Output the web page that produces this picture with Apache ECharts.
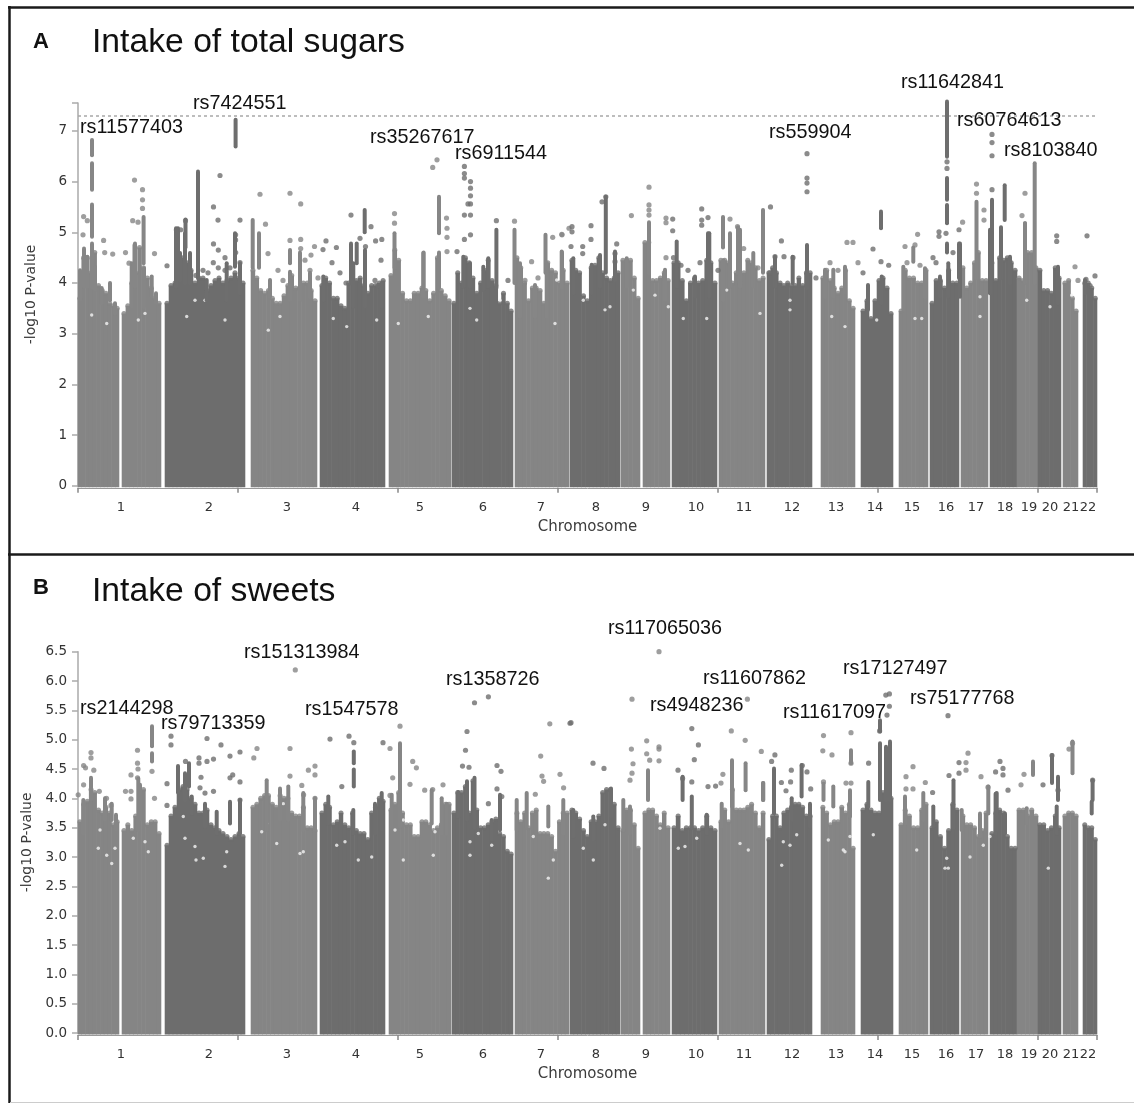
<!DOCTYPE html>
<html><head><meta charset="utf-8">
<style>html,body{margin:0;padding:0;background:#fff}#c{width:1134px;height:1103px;filter:blur(0.45px)}</style>
<script src="https://cdn.jsdelivr.net/npm/echarts@6/dist/echarts.min.js"></script>
</head><body><div id="c"></div>
<script>
// ---------- data ----------
const chromosomes = ['1','2','3','4','5','6','7','8','9','10','11','12','13','14','15','16','17','18','19','20','21','22'];
const chromCentre = [43,131,209,278,342,405,463,518,568,618,666,714,758,797,834,868,898,927,951,972,993,1010];
// genome blocks: [chromosome index, start, end] on the cumulative position scale
const blocks = [[0,0,41],[0,44,83],[1,87,167],[2,173,239],[3,242,307],[4,311,373],[5,374,435],[6,437,491],[7,492,542],[8,543,562],[8,565,592],[9,594,639],[10,641,687],[11,689,734],[12,743,777],[13,783,815],[14,821,850],[15,852,881],[16,883,910],[17,912,939],[18,939,960],[19,960,983],[20,985,1000],[21,1005,1019]];
const xTicks = [0,160,320,480,640,800,960,1019];

const yTicksA = [0,1,2,3,4,5,6,7];
const yTicksB = [0,0.5,1,1.5,2,2.5,3,3.5,4,4.5,5,5.5,6,6.5];
const genomeWideLine = 7.3;

// upper envelope of the dense cloud, per genome block
const massA = [
[3.7,4.5,4.5,4.2,4.6,3.95,3.85,3.8,3.6,3.55,3.5],
[3.4,3.55,4.0,4.2,4.7,4.3,4.1,3.9,3.7,3.6],
[3.6,3.95,4.0,4.4,4.5,4.4,4.25,4.0,4.1,4.1,3.85,3.95,4.05,4.1,4.0,4.05,4.1,4.2,4.1,4.0],
[4.25,4.1,3.85,3.8,3.85,3.7,3.6,3.6,3.75,3.95,4.15,3.9,3.9,4.0,4.0,3.85,3.65],
[3.95,4.1,4.0,3.7,3.7,3.55,3.5,4.0,4.3,4.05,4.1,3.95,3.8,3.95,3.95,4.0,4.05],
[4.15,4.65,4.45,3.8,3.65,3.65,3.8,3.8,3.9,3.85,3.65,3.8,4.5,3.85,3.75,3.65],
[3.6,4.2,4.0,4.5,4.4,4.1,3.8,4.0,4.25,4.45,4.05,3.95,3.6,3.8,3.6,3.45],
[4.5,4.3,4.0,3.65,3.9,3.9,3.85,3.6,4.4,4.25,4.2,4.0,4.25,4.0],
[4.45,4.25,4.2,3.75,3.65,4.3,4.35,4.5,4.2,4.1,4.05,4.1,4.2],
[4.45,4.45,4.45,4.1,3.7],
[4.8,4.8,4.05,4.05,4.1,4.2,4.05],
[4.4,4.4,4.05,3.65,4.0,4.1,4.0,4.05,4.45,4.4,4.0],
[4.45,4.45,4.4,4.0,4.2,4.0,4.2,4.45,4.4,4.3,4.05,4.1],
[4.2,4.3,4.2,4.0,3.95,4.0,3.95,3.95,4.1,3.95,4.2,4.2],
[4.1,4.25,4.05,3.9,3.8,3.9,4.25,3.65,3.5],
[3.45,3.65,3.3,3.65,4.05,4.1,3.9,3.4],
[3.45,4.25,4.1,4.1,4.0,4.0,4.25],
[3.6,4.05,4.05,3.9,4.25,4.0,4.0],
[4.3,3.9,4.0,4.4,4.6,4.05,4.05],
[4.4,4.05,4.5,4.45,4.5,4.4,4.25],
[4.1,4.05,4.6,4.6,4.3],
[4.25,3.85,3.85,3.8,4.3,4.1],
[4.0,4.05,3.7,3.45],
[4.0,4.0,3.9,3.7]
];
const massB = [
[3.6,3.9,3.95,4.15,4.1,3.8,3.75,3.85,3.75,3.55,3.6],
[3.45,3.55,3.45,3.7,4.15,4.15,3.55,3.6,3.6,3.4],
[3.2,3.7,3.85,4.15,4.2,4.15,4.0,3.9,3.75,3.75,3.8,3.55,3.5,3.45,3.4,3.35,3.3,3.35,3.4,3.35],
[3.85,3.9,4.0,4.05,4.05,3.9,3.85,4.05,4.0,4.0,3.75,3.7,3.7,3.85,3.5,3.5,3.45],
[3.75,3.9,3.85,3.55,3.6,3.75,3.55,3.5,3.75,3.45,3.4,3.4,3.3,3.75,3.85,4.0,3.95],
[3.8,3.9,4.1,3.75,3.55,3.55,3.35,3.35,3.6,3.6,3.55,3.45,3.5,3.55,3.9,3.9],
[3.75,4.1,4.1,4.2,3.75,4.3,3.8,3.5,3.5,3.55,3.6,3.65,3.4,3.35,3.1,3.05],
[3.75,3.6,3.75,3.5,3.75,3.8,3.4,3.4,3.4,3.35,3.1,3.6,3.75,3.75],
[3.8,3.75,3.65,3.45,3.35,3.6,3.6,3.7,4.1,4.15,4.15,3.9,3.5],
[3.45,3.8,3.8,3.55,3.15],
[3.75,3.8,3.8,3.7,3.55,3.75,3.5],
[3.5,3.7,3.45,3.5,3.5,3.5,3.45,3.5,3.7,3.5,3.45],
[3.6,3.8,3.6,4.15,3.8,3.8,3.8,3.85,3.9,3.75,3.5,3.75],
[3.3,3.7,3.7,3.5,3.75,3.8,3.85,3.9,3.9,3.85,3.7,3.7],
[3.85,3.75,3.55,3.6,3.6,3.85,3.75,3.9,3.15],
[3.8,3.9,3.8,3.75,3.75,4.1,4.15,4.0],
[3.55,3.8,3.7,3.5,3.5,3.8,3.9],
[3.5,3.6,3.35,3.15,3.45,3.9,3.8],
[3.7,3.55,3.55,3.5,3.35,3.45,3.75],
[3.4,3.75,3.8,3.75,3.35,3.15,3.15],
[3.8,3.8,3.7,3.8,3.7],
[3.55,3.55,3.45,3.5,3.7,3.5],
[3.7,3.75,3.75,3.7],
[3.55,3.5,3.5,3.3]
];

// vertical runs of closely packed SNPs: [position, low, high]
const runsA = [[14,6.52,6.82],[14,5.84,6.36],[14,4.91,5.55],[14,3.9,4.78],[65.6,4.39,5.3],[56.5,4.0,4.75],[120,4.1,6.2],[157.6,6.69,7.22],[174.7,4.3,5.24],[181,4.3,4.98],[316.5,4.3,4.98],[286.7,5.0,5.44],[361,4.98,5.7],[361,3.9,4.6],[418.4,3.9,5.05],[436.5,4.0,5.05],[273,4.0,4.78],[100,4.45,5.08],[107.5,4.7,5.25],[345.6,3.9,4.6],[467.5,4.2,4.95],[484,3.9,4.6],[527.8,4.2,5.7],[571,4.2,5.2],[630,4.1,4.98],[645,4.7,5.3],[652,4.2,4.98],[660,4.2,5.1],[685,4.2,5.44],[729,3.9,4.75],[803,5.08,5.41],[869,6.49,7.58],[869,5.64,6.07],[869,5.18,5.54],[869,4.6,4.78],[898.5,4.1,5.6],[914,4.98,5.64],[914,4.3,4.98],[926.7,5.24,5.93],[923,4.1,5.1],[956.7,4.0,6.36],[947,4.6,5.18],[881,4.1,4.78],
[6,3.93,4.68],[2,3.66,4.25],[9.3,3.93,4.52],[17,3.86,4.32],[23.7,3.6,3.9],[32,3.66,4.0],[37,3.4,3.6],[53.7,3.53,4.39],[57,3.93,4.78],[66,3.53,4.29],[73.7,3.73,4.13],[78,3.6,3.8],[98,3.93,5.08],[102,4.06,4.59],[107,4.0,4.98],[112,4.0,4.59],[128.7,3.66,4.06],[148.7,3.66,4.39],[157,4.32,4.98],[162,3.8,4.39],[192,3.73,4.06],[212,3.66,4.22],[212,4.39,4.65],[222,3.66,4.6],[232,3.73,4.2],[245.3,3.66,4.13],[275.3,3.53,4.39],[278.7,4.39,4.78],[287,3.53,4.65],[303.7,3.53,4.0],[345.3,3.73,4.59],[385.3,3.93,4.52],[392,3.93,4.39],[410.3,3.93,4.49],[405.3,3.86,4.32],[442,3.34,4.39],[457,3.34,3.96],[468.7,3.34,4.39],[483.7,3.93,4.62],[495.3,3.8,4.49],[513.7,3.8,4.36],[522,3.93,4.55],[537,4.06,4.62],[548.7,3.93,4.49],[587,3.66,4.26],[598.7,3.93,4.82],[617,3.73,4.13],[631.3,3.73,4.98],[645.3,3.66,4.45],[652,3.93,4.95],[662,3.93,5.05],[675.3,3.93,4.59],[697,3.93,4.52],[714.7,4.0,4.52],[747,3.73,4.26],[755.3,3.73,4.26],[767,3.8,4.32],[790,3.47,3.96],[803.7,3.6,4.13],[825.3,3.47,4.32],[835.3,4.42,4.7],[847,3.73,4.29],[862,3.73,4.13],[870.3,3.73,4.39],[882,3.73,4.78],[912,3.8,5.05],[932,4.0,4.52],[947,4.0,5.18],[980,3.6,4.32],[1007,3.8,4.06]];
const runsB = [[74,4.89,5.23],[74,4.63,4.77],[322,3.52,4.94],[275.8,4.6,4.8],[275.8,4.2,4.49],[396.5,3.5,4.35],[389,3.64,4.29],[13,3.98,4.35],[62,3.64,4.23],[100,4.1,4.55],[111,4.2,4.6],[533,3.7,4.17],[570,3.97,4.48],[654,3.86,4.65],[667.6,4.14,4.6],[696,3.74,4.51],[685,3.97,4.26],[723.6,4.03,4.57],[773,4.6,4.82],[802,5.14,5.33],[802,3.97,4.94],[808,3.97,4.88],[812,3.97,4.97],[875.5,3.5,4.31],[917.6,3.4,4.08],[994.5,4.43,4.97],[955,4.4,4.63],[974,4.26,4.74],[1014.6,3.97,4.31],[613.8,3.5,4.03],[604.6,3.97,4.37],[745.5,3.97,4.25],[980,3.97,4.37],
[5.3,3.4,3.97],[27,3.63,4.0],[33.7,3.63,3.91],[38,3.46,3.72],[60.3,3.46,4.34],[107,3.97,4.43],[113.7,3.74,4.03],[127,3.52,3.91],[138.7,3.4,3.77],[152,3.57,3.94],[162,3.4,3.97],[188.7,3.46,4.31],[202,3.63,4.17],[210.3,3.63,4.2],[225.3,3.46,4.09],[237,3.46,4.0],[250.3,3.57,4.03],[275.3,3.4,3.8],[297,3.4,3.91],[303.7,3.46,4.09],[313.7,3.52,4.06],[353.7,3.57,4.14],[363.7,3.4,4.0],[368.7,3.4,3.91],[380.3,3.69,4.11],[413.7,3.3,3.63],[422,3.46,4.06],[448.7,3.52,4.09],[438.7,3.46,3.97],[470.3,3.52,3.86],[485.3,3.4,3.97],[495.3,3.35,3.8],[515.3,3.29,3.69],[545.3,3.46,3.97],[552,3.4,3.86],[628.7,3.4,3.72],[643.7,3.52,3.91],[685.3,3.97,4.26],[713.7,3.63,4.0],[732,3.52,3.91],[755.3,3.86,4.2],[772,3.69,4.14],[790.3,3.86,4.28],[827,3.57,4.03],[845.3,3.63,4.09],[855.3,3.52,3.86],[883.7,3.46,3.8],[902,3.35,3.74],[910.3,3.74,4.2],[918.7,3.46,4.09],[927,3.4,3.74],[948.7,3.57,3.83],[978.7,3.4,3.86],[1013.7,3.74,3.94]];

// individual SNPs above the cloud: [position, -log10 p]
const dotsA = [[5.6,5.31],[9.3,5.23],[5,4.95],[25.6,4.84],[26.7,4.6],[34.7,4.57],[47.5,4.6],[56.5,6.03],[64.5,5.84],[64.5,5.64],[64.5,5.47],[54.7,5.23],[60,5.2],[51,4.39],[76.5,4.58],[89,4.34],[107.5,5.23],[98.4,5.05],[102.7,5.05],[142,6.12],[135.5,5.5],[140,5.24],[162,5.24],[157.6,4.95],[157.6,4.85],[135.5,4.77],[182,5.75],[187.5,5.16],[190,4.58],[212,5.77],[222.7,5.56],[212,4.84],[222.7,4.86],[222.7,4.68],[248,4.83],[236.5,4.72],[245,4.66],[258.4,4.7],[233,4.55],[254,4.4],[273,5.34],[282,4.88],[297.6,4.83],[303.8,4.86],[293,5.11],[287.5,4.72],[303,4.45],[316.5,5.37],[316.5,5.18],[354.7,6.28],[359,6.43],[368.5,5.28],[369,5.08],[369,4.9],[369,4.62],[379,4.62],[386.4,6.3],[386.4,6.16],[386.4,6.07],[392.5,6.0],[392.5,5.87],[392.5,5.72],[390,5.56],[392.5,5.56],[386.4,5.34],[392.5,5.34],[392.5,4.95],[386.4,4.86],[418.4,5.23],[436.5,5.22],[453.6,4.42],[474.7,4.9],[483.8,4.96],[491,5.08],
[494,5.11],[494,5.01],[484,4.95],[513,5.13],[513,4.86],[504.7,4.72],[504.7,4.58],[493,4.72],[527.8,5.7],[524,5.6],[538.7,4.77],[537,4.58],[537,4.42],[553.4,5.33],[571,5.89],[571,5.54],[571,5.44],[571,5.34],[588,5.28],[594.7,5.26],[588,5.19],[594.7,5.03],[588,4.5],[595.5,4.5],[623.7,5.46],[623.7,5.24],[623.7,5.14],[630,5.29],[652,5.26],[659.5,5.11],[665.7,4.68],[692.5,5.5],[703.4,4.83],[697,4.52],[706,4.52],[715,4.5],[729,6.55],[729,6.07],[729,5.97],[729,5.8],[752,4.4],[769,4.8],[775,4.8],[795,4.67],[803,4.42],[810.7,4.35],[839.6,4.96],[827,4.72],[837,4.75],[861,5.01],[861,4.92],[868,4.98],[881,5.05],[884.6,5.2],[869,6.39],[869,6.26],[914,6.93],[914,6.77],[914,6.51],[898.5,5.95],[898.5,5.77],[906,5.44],[906,5.24],[914,5.84],[947,5.77],[944,5.33],[978.7,4.93],[978.7,4.82],[1009,4.93],[997,4.32],[1017,4.14],[1008,4.07],
[140.3,4.65],[135.3,4.4],[140.3,4.3],[147,4.5],[147,4.25],[152,4.3],[157.7,4.6],[162,4.4],[130,4.2],[125,4.25],[118,4.15],[200,4.25],[205,4.05],[227,4.45],[232,4.25],[240,4.1],[262,4.2],[268,4.0],[297,4.05],[300,3.95],[430,4.05],[447,4.05],[460,4.1],[603,4.35],[610,4.25],[622,4.4],[640,4.25],[680,4.3],[692,4.2],[738,4.1],[760,4.25],[780,4.4],[785,4.2],[829,4.4],[842,4.35],[855,4.5],[858,4.4],[875,4.6],[1000,4.05],[1012,3.95]];
const dotsB = [[5.6,4.56],[7.5,4.52],[15.8,4.48],[0.2,4.06],[5.6,4.23],[21.3,4.12],[28.5,4.0],[33,3.88],[13,4.78],[13,4.69],[59.5,4.82],[59.5,4.6],[60,4.5],[53,4.4],[59.5,4.35],[47.5,4.12],[53,4.12],[53,3.99],[74,4.46],[76.5,4.0],[89,4.25],[89,3.88],[93,5.06],[93,4.91],[107.5,4.63],[121,4.69],[121,4.6],[129,5.02],[129,4.63],[135.5,4.67],[143,4.91],[152,4.72],[162,4.79],[175.8,4.69],[179,4.85],[152,4.35],[154.7,4.4],[162,4.28],[123,4.36],[122,4.18],[135.5,4.12],[127,4.09],[162,3.97],[212,4.85],[212,4.38],[217.3,6.19],[223.8,4.22],[230.4,4.48],[237,4.55],[237,4.4],[225.6,4.06],[237,4.0],[252,5.01],[271,5.06],[275.8,4.95],[263.8,4.2],[305,4.95],[312,4.85],[322,5.23],[334.7,4.63],[338.4,4.52],[332,4.24],[314.7,4.35],[312,4.05],[346.7,4.14],[354.7,4.15],[365,4.23],[389,5.14],[387.5,4.82],[384.5,4.55],[391,4.53],[396.5,5.63],[410.4,5.73],[419,4.56],[423,4.46],[419,4.16],[410.4,3.91],[423.8,4.03],[471.8,5.27],[492,5.28],[462.7,4.72],[464,4.38],[465.6,4.29],[482,4.41],[485.6,4.18],[457.3,4.07],
[493,5.29],[515,4.6],[526,4.51],[554,5.69],[568.7,4.98],[553.4,4.84],[568.7,4.76],[581,4.88],[581,4.84],[581,4.64],[555,4.59],[554,4.43],[552,4.31],[581,6.5],[571.7,4.65],[613.8,5.19],[620.4,4.91],[616.3,4.66],[600,4.48],[613.8,4.28],[604.6,4.34],[669.4,5.69],[653.3,5.15],[667.2,4.99],[683.3,4.8],[696.9,4.74],[693.6,4.63],[644.9,4.41],[643,4.26],[630,4.2],[637.6,4.21],[713.3,4.48],[724.3,4.56],[729,4.45],[732.7,4.16],[712.6,4.28],[708,4.13],[703.4,4.27],[745.5,5.07],[773,5.12],[744.8,4.81],[754,4.74],[773,4.6],[790.6,4.6],[745.5,4.28],[773,4.26],[768,4.26],[807.8,5.76],[811.4,5.78],[811.4,5.57],[809,5.42],[801.6,5.15],[870,5.41],[835,4.54],[828,4.37],[847.3,4.27],[828,4.16],[835,4.16],[854.6,4.1],[871,4.39],[881,4.61],[888,4.61],[890,4.77],[888,4.48],[881,4.43],[903,4.37],[910,4.19],[922,4.63],[917.6,4.45],[925,4.51],[925,4.4],[930,4.14],[946,4.41],[943,4.23],[965,4.23],[974,4.73],[980,4.14],[991,4.84],[1014.6,4.31],[994.5,4.94]];

// white specks inside the cloud: [position, -log10 p]
const specksA = [[13.7,3.37],[28.7,3.2],[60.3,3.27],[67,3.4],[117,3.66],[108.7,3.34],[147,3.27],[127,3.66],[202,3.34],[190.3,3.07],[255.3,3.3],[268.7,3.14],[320.3,3.2],[298.7,3.27],[350.3,3.34],[392,3.5],[398.7,3.27],[422,3.66],[477,3.2],[478.7,4.06],[505.3,3.66],[527,3.47],[532,3.53],[555.3,3.86],[577,3.76],[590.3,3.53],[605.3,3.3],[628.7,3.3],[682,3.4],[648.7,3.86],[712,3.66],[712,3.47],[753.7,3.34],[767,3.14],[798.7,3.27],[837,3.3],[843.7,3.3],[902,3.73],[902,3.34],[948.7,3.66],[972,3.53],[993.7,3.76]];
const specksB = [[22,3.46],[20.3,3.15],[33.7,2.89],[28.7,3.03],[37,3.15],[67,3.26],[70.3,3.09],[55.3,3.32],[117,3.18],[118,2.95],[125.3,2.98],[148.7,3.09],[147,2.84],[107,3.32],[105.3,3.69],[183.7,3.43],[198.7,3.23],[225.3,3.09],[222,3.06],[188.7,3.57],[205.3,3.91],[258.7,3.2],[267,3.26],[293.7,3.0],[280.3,2.95],[325.3,2.95],[317,3.46],[325.3,3.63],[392,3.26],[400.3,3.4],[413.7,3.2],[455.3,3.35],[475.3,2.95],[470.3,2.64],[515.3,2.95],[505.3,3.15],[527,3.55],[600.3,3.15],[618.7,3.32],[607,3.18],[582,3.49],[662,3.23],[670.3,3.12],[355.3,3.03],[392,3.03],[357,3.43],[705.3,3.26],[712,3.2],[703.7,2.86],[718.7,3.38],[765.3,3.12],[772,3.35],[750.3,3.29],[795.3,3.38],[868.7,2.98],[867,2.81],[870.3,2.81],[838.7,3.12],[892,3.0],[905.3,3.2],[902,3.38],[912,3.35],[970.3,2.81],[767,3.09]];

const snpNamesA = ['rs11577403','rs7424551','rs35267617','rs6911544','rs559904','rs11642841','rs60764613','rs8103840'];
const snpNamesB = ['rs2144298','rs79713359','rs151313984','rs1547578','rs1358726','rs117065036','rs4948236','rs11607862','rs11617097','rs17127497','rs75177768'];

// ---------- layout ----------
const snpPosA = [[80,128],[193,104],[370,138],[455,154],[769,133],[901,83],[957,121],[1004,151]];
const snpPosB = [[80,709],[161,724],[244,653],[305,710],[446,680],[608,629],[650,706],[703,679],[783,713],[843,669],[910,699]];
const LIGHT='#858585', DARK='#6d6d6d', DOT_L='#868686', DOT_D='#6e6e6e';
const FONT='"DejaVu Sans"';

function chromOf(x){
  let best=0, d=1e9;
  blocks.forEach(b=>{ const dd = x<b[1]? b[1]-x : x>b[2]? x-b[2] : 0; if(dd<d){d=dd;best=b[0];} });
  return best;
}
const shade = x => chromOf(x)%2===0 ? DOT_L : DOT_D;

function massRects(mass){
  const out=[];
  mass.forEach((tops,i)=>{
    const b=blocks[i], w=(b[2]-b[1])/tops.length;
    tops.forEach((t,j)=>out.push([b[1]+j*w,b[1]+(j+1)*w,t,b[0]]));
  });
  return out;
}
function panelSeries(g,mass,runs,dots,specks,line){
  const rects=massRects(mass);
  const tops=rects.map(r=>[(r[0]+r[1])/2,r[2]]);
  return [{
    type:'custom',xAxisIndex:g,yAxisIndex:g,clip:false,silent:true,z:2,
    encode:{x:[0,1],y:2},data:rects,
    renderItem:(p,api)=>{
      const a=api.coord([api.value(0),api.value(2)]), c=api.coord([api.value(1),0]);
      return {type:'rect',shape:{x:a[0]-0.3,y:a[1],width:c[0]-a[0]+0.6,height:c[1]-a[1]+1.5},
        style:{fill:api.value(3)%2===0?LIGHT:DARK}};
    }
  },{
    type:'scatter',xAxisIndex:g,yAxisIndex:g,z:3,silent:true,symbolSize:5,data:tops,
    itemStyle:{color:p=>chromOf(p.value[0])%2===0?LIGHT:DARK}
  },{
    type:'scatter',xAxisIndex:g,yAxisIndex:g,z:4,silent:true,symbolSize:3.4,data:specks,
    itemStyle:{color:'#f4f4f4'}
  },{
    type:'custom',xAxisIndex:g,yAxisIndex:g,clip:false,silent:true,z:5,
    encode:{x:0,y:[1,2]},data:runs,
    renderItem:(p,api)=>{
      const a=api.coord([api.value(0),api.value(2)]), c=api.coord([api.value(0),api.value(1)]);
      return {type:'rect',shape:{x:a[0]-2,y:a[1]-2,width:4,height:c[1]-a[1]+4,r:2},
        style:{fill:shade(api.value(0))}};
    }
  },{
    type:'scatter',xAxisIndex:g,yAxisIndex:g,z:6,silent:true,symbolSize:5.2,data:dots,
    itemStyle:{color:p=>shade(p.value[0])},
    markLine: line==null?undefined:{silent:true,symbol:'none',animation:false,
      label:{show:false},lineStyle:{type:[3,3],color:'#a8a8a8',width:1.5},data:[{yAxis:line}]}
  }];
}
function xAxis(g){
  return {type:'value',gridIndex:g,min:0,max:1019,interval:160,offset:2,
    name:'Chromosome',nameLocation:'middle',nameGap:32,
    nameTextStyle:{fontFamily:FONT,fontSize:15,color:'#3c3c3c'},
    axisLine:{show:true,onZero:false,lineStyle:{color:'#999',width:1}},
    axisTick:{show:true,length:5,customValues:xTicks,lineStyle:{color:'#888',width:1.5}},
    axisLabel:{show:true,customValues:chromCentre,hideOverlap:false,margin:13,
      fontFamily:FONT,fontSize:13,color:'#333',
      formatter:v=>chromosomes[chromCentre.indexOf(v)]},
    splitLine:{show:false}};
}
function yAxis(g,max,ticks,interval,fmt){
  return {type:'value',gridIndex:g,min:0,max:max,interval:interval,
    name:'-log10 P-value',nameLocation:'middle',nameGap:40,nameRotate:90,
    nameTextStyle:{fontFamily:FONT,fontSize:14,color:'#3c3c3c'},
    axisLine:{show:true,onZero:false,lineStyle:{color:'#aaa',width:1.5}},
    axisTick:{show:true,length:6,customValues:ticks.concat([max]),lineStyle:{color:'#aaa',width:1.5}},
    axisLabel:{show:true,customValues:ticks,margin:11,fontFamily:FONT,fontSize:13.5,color:'#333',formatter:fmt},
    splitLine:{show:false}};
}
function snpText(names,pos){
  return names.map((n,i)=>({type:'text',x:pos[i][0],y:pos[i][1],z:100,
    style:{text:n,font:'19.8px "Liberation Sans"',fill:'#111',textVerticalAlign:'middle'}}));
}
function rule(x1,y1,x2,y2,col,w){
  return {type:'line',z:90,shape:{x1,y1,x2,y2},style:{stroke:col,lineWidth:w}};
}
function head(text,x,y,font){
  return {type:'text',x,y,z:100,style:{text,font,fill:'#111',textVerticalAlign:'middle'}};
}
const option={
  animation:false,backgroundColor:'#fff',
  grid:[
    {left:78,width:1019,top:103,height:382.8},
    {left:78,width:1019,top:651.7,height:381.3}
  ],
  xAxis:[xAxis(0),xAxis(1)],
  yAxis:[yAxis(0,7.55,yTicksA,1,v=>String(v)),yAxis(1,6.5,yTicksB,0.5,v=>v.toFixed(1))],
  series:[...panelSeries(0,massA,runsA,dotsA,specksA,genomeWideLine),
          ...panelSeries(1,massB,runsB,dotsB,specksB,null)],
  graphic:[
    rule(8,7.5,1134,7.5,'#1a1a1a',2.5),
    rule(9.5,6,9.5,1103,'#1a1a1a',2.5),
    rule(8,554.5,1134,554.5,'#1a1a1a',2.5),
    rule(10,1102.5,1134,1102.5,'#cccccc',1),
    head('A',33,42,'bold 22px "Liberation Sans"'),
    head('Intake of total sugars',92,42.5,'33.7px "Liberation Sans"'),
    head('B',33,588,'bold 22px "Liberation Sans"'),
    head('Intake of sweets',92,591.5,'33.7px "Liberation Sans"'),
    ...snpText(snpNamesA,snpPosA),
    ...snpText(snpNamesB,snpPosB)
  ]
};
echarts.init(document.getElementById('c'),null,{renderer:'canvas'}).setOption(option);
</script></body></html>
